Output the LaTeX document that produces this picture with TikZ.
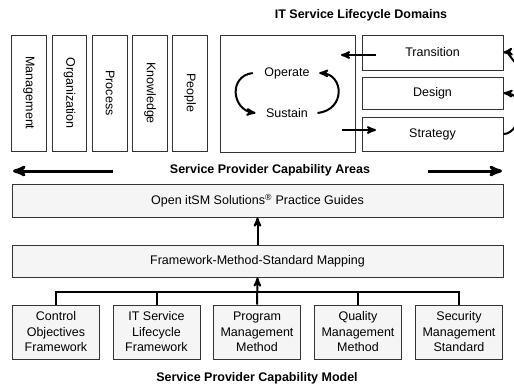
\documentclass[tikz,border=0pt]{standalone}
\usepackage{fontspec}
\setmainfont{Liberation Sans}
\usetikzlibrary{arrows,positioning}

\begin{document}
\begin{tikzpicture}[x=1pt,y=-1pt,>=stealth',auto,semithick,
    font=\fontsize{12.5}{15.5}\selectfont,
    area/.style={draw=black!80,line width=1pt,rotate=-90,minimum width=116pt,minimum height=34.5pt,inner sep=0pt},
    phasebox/.style={draw=black!80,line width=1pt,minimum width=141pt,inner sep=0pt},
    guide/.style={draw=black!80,fill=black!4,line width=1pt,minimum width=491pt,minimum height=33pt,inner sep=0pt},
    source/.style={draw=black!80,fill=black!4,line width=1pt,minimum width=87pt,minimum height=54pt,inner sep=0pt,align=center},
    link/.style={->,line width=2pt},
    heading/.style={font=\fontsize{12.5}{15}\selectfont\bfseries}]
    \useasboundingbox (0,0) rectangle (514,389);

    % capability areas
    \node[area] (mgmt) at (29,93) {Management};
    \node[area] (org) at (69.5,93) {Organization};
    \node[area] (proc) at (110,93) {Process};
    \node[area] (know) at (150,93) {Knowledge};
    \node[area] (ppl) at (190,93) {People};

    % lifecycle domains
    \node[heading] (ttl) at (361,15) {IT Service Lifecycle Domains};
    \node[draw=black!80,line width=1pt,minimum width=135pt,minimum height=117pt] (life) at (287.5,93.5) {};
    \node (op) at (287,73) {Operate};
    \node (sus) at (287,113) {Sustain};
    \node[phasebox,minimum height=35pt] (trans) at (432.5,52.5) {Transition};
    \node[phasebox,minimum height=32pt] (des) at (432.5,93) {Design};
    \node[phasebox,minimum height=34pt] (strat) at (432.5,134) {Strategy};
    \coordinate (tout) at (376,55);
    \coordinate (tin) at (341,55);
    \coordinate (sout) at (342,130);
    \coordinate (sin) at (376,130);
    \coordinate (rt) at (520,68);
    \draw[link] (tout) -- (tin);
    \draw[link] (sout) -- (sin);
    \draw[link] ([xshift=-8pt]op.west) .. controls (228,76) and (232,110) .. ([xshift=-7pt]sus.west);
    \draw[link] ([xshift=6pt]sus.east) .. controls (346,110) and (344,74) .. ([xshift=6pt]op.east);
    \draw[link] (strat.east) .. controls (520,134) and (530,95) .. (des.east);
    \draw[link] (rt) .. controls (512,60) and (508,52) .. (trans.east);

    % capability areas arrow
    \node[heading] (areas) at (270,170) {Service Provider Capability Areas};
    \coordinate (al) at (113,171);
    \coordinate (ar) at (428,171);
    \draw[->,line width=3pt] (al) -- (13,171);
    \draw[->,line width=3pt] (ar) -- (502,171);

    % guides and mapping
    \node[guide] (guides) at (257.5,200.5) {Open itSM Solutions\textsuperscript{\textregistered} Practice Guides};
    \node[guide,minimum height=32pt] (map) at (257.5,261) {Framework-Method-Standard Mapping};
    \draw[link] (map) -- (guides);

    % sources
    \node[source] (cof) at (56,332) {Control\\Objectives\\Framework};
    \node[source] (itf) at (156.5,332) {IT Service\\Lifecycle\\Framework};
    \node[source] (pmm) at (257,332) {Program\\Management\\Method};
    \node[source] (qmm) at (358,332) {Quality\\Management\\Method};
    \node[source] (smm) at (459,332) {Security\\Management\\Standard};
    \coordinate (bus) at (257,292);
    \draw[line width=2pt] (cof.north) |- (smm.north |- bus) -- (smm.north);
    \draw[line width=2pt] (itf.north) -- (itf.north |- bus);
    \draw[line width=2pt] (qmm.north) -- (qmm.north |- bus);
    \draw[link] (pmm.north) -- (map.south);

    \node[heading] (model) at (257,378) {Service Provider Capability Model};
\end{tikzpicture}
\end{document}
